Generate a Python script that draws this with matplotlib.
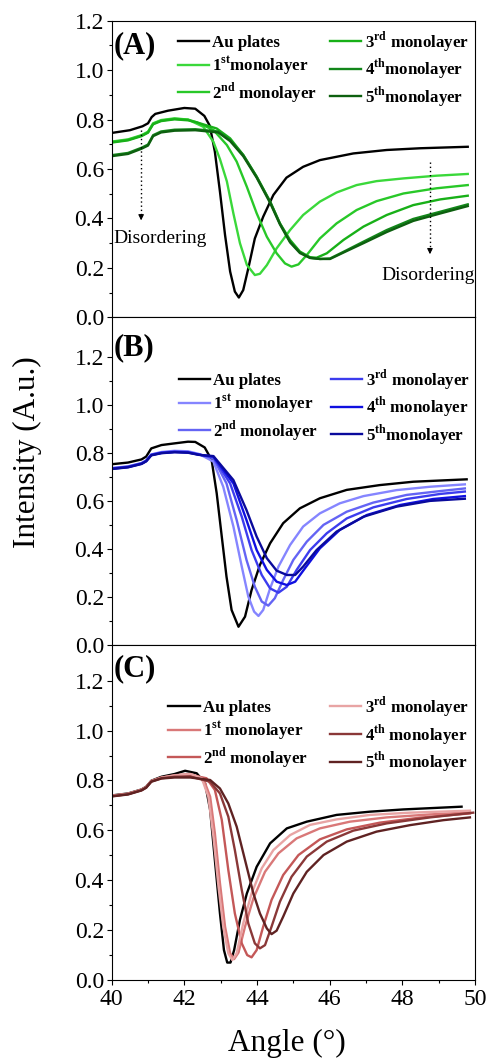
import matplotlib
matplotlib.use("Agg")
import matplotlib.pyplot as plt
from matplotlib.font_manager import FontProperties

plt.rcParams["font.family"] = "Liberation Serif"
plt.rcParams["mathtext.fontset"] = "custom"
plt.rcParams["mathtext.rm"] = "Liberation Serif"
plt.rcParams["mathtext.bf"] = "Liberation Serif:bold"

# ---------------- panel A (green) ----------------
a_au_x = [40.0, 40.5, 40.85, 41.0, 41.1, 41.2, 41.55, 42.0, 42.3, 42.55, 42.7, 42.84, 42.98, 43.12,
          43.26, 43.39, 43.5, 43.62, 43.76, 43.94, 44.17, 44.45, 44.81, 45.27, 45.73, 46.65, 47.57,
          48.49, 49.8]
a_au_y = [0.746, 0.757, 0.773, 0.785, 0.810, 0.823, 0.836, 0.847, 0.844, 0.815, 0.775, 0.670, 0.508,
          0.333, 0.185, 0.104, 0.080, 0.110, 0.198, 0.319, 0.407, 0.495, 0.565, 0.609, 0.636, 0.663,
          0.677, 0.684, 0.690]
a_m1_x = [40.0, 40.45, 40.82, 41.0, 41.14, 41.36, 41.73, 42.1, 42.52, 42.8, 42.98, 43.17, 43.35,
          43.53, 43.72, 43.94, 44.08, 44.27, 44.54, 44.91, 45.27, 45.73, 46.19, 46.74, 47.29, 48.03,
          48.94, 49.8]
a_m1_y = [0.711, 0.720, 0.737, 0.751, 0.785, 0.798, 0.805, 0.800, 0.771, 0.710, 0.640, 0.550, 0.420,
          0.300, 0.212, 0.171, 0.176, 0.211, 0.279, 0.353, 0.414, 0.468, 0.505, 0.535, 0.551, 0.562,
          0.573, 0.580]
a_m2_x = [40.0, 40.45, 40.82, 41.0, 41.14, 41.36, 41.73, 42.1, 42.34, 42.8, 43.17, 43.44, 43.72,
          43.99, 44.27, 44.54, 44.77, 44.95, 45.14, 45.37, 45.73, 46.19, 46.74, 47.29, 48.03, 48.94,
          49.8]
a_m2_y = [0.709, 0.718, 0.735, 0.749, 0.783, 0.796, 0.803, 0.800, 0.789, 0.758, 0.697, 0.630, 0.528,
          0.421, 0.326, 0.259, 0.218, 0.205, 0.214, 0.252, 0.319, 0.380, 0.434, 0.470, 0.501, 0.522,
          0.535]
a_m3_x = [40.0, 40.45, 40.82, 41.0, 41.14, 41.36, 41.73, 42.1, 42.34, 42.89, 43.26, 43.62, 43.99,
          44.36, 44.63, 44.91, 45.18, 45.46, 45.64, 45.92, 46.38, 46.93, 47.57, 48.3, 49.04, 49.8]
a_m3_y = [0.707, 0.716, 0.733, 0.747, 0.781, 0.794, 0.801, 0.797, 0.789, 0.764, 0.724, 0.657, 0.569,
          0.468, 0.380, 0.313, 0.266, 0.243, 0.241, 0.259, 0.313, 0.367, 0.414, 0.454, 0.477, 0.492]
a_m4_x = [40.0, 40.45, 40.82, 41.0, 41.14, 41.36, 41.73, 42.3, 42.93, 43.26, 43.62, 43.99, 44.36,
          44.63, 44.91, 45.18, 45.46, 45.73, 46.01, 46.38, 46.93, 47.57, 48.3, 49.04, 49.8]
a_m4_y = [0.656, 0.665, 0.686, 0.699, 0.737, 0.752, 0.759, 0.761, 0.752, 0.717, 0.657, 0.569, 0.468,
          0.380, 0.306, 0.263, 0.241, 0.236, 0.238, 0.265, 0.306, 0.353, 0.398, 0.427, 0.457]
a_m5_x = a_m4_x
a_m5_y = [0.652, 0.661, 0.682, 0.695, 0.733, 0.748, 0.755, 0.757, 0.748, 0.713, 0.652, 0.565, 0.463,
          0.376, 0.303, 0.260, 0.240, 0.236, 0.236, 0.262, 0.300, 0.345, 0.390, 0.420, 0.450]

# ---------------- panel B (blue) ----------------
b_au_x = [40.0, 40.45, 40.82, 40.95, 41.09, 41.37, 41.73, 42.1, 42.3, 42.56, 42.75, 42.89, 43.03,
          43.16, 43.3, 43.49, 43.67, 43.85, 44.08, 44.36, 44.72, 45.18, 45.73, 46.47, 47.38, 48.3,
          49.77]
b_au_y = [0.754, 0.761, 0.774, 0.786, 0.820, 0.834, 0.841, 0.848, 0.847, 0.824, 0.772, 0.633, 0.452,
          0.285, 0.146, 0.076, 0.118, 0.229, 0.334, 0.424, 0.508, 0.570, 0.612, 0.647, 0.667, 0.681,
          0.691]
b_m1_x = [40.0, 40.45, 40.82, 40.95, 41.09, 41.37, 41.73, 42.1, 42.4, 42.8, 43.07, 43.35, 43.58,
          43.76, 43.92, 44.04, 44.17, 44.36, 44.59, 44.91, 45.27, 45.73, 46.28, 46.93, 47.84, 48.76,
          49.72]
b_m1_y = [0.738, 0.745, 0.759, 0.770, 0.795, 0.805, 0.810, 0.808, 0.797, 0.765, 0.660, 0.494, 0.327,
          0.202, 0.139, 0.121, 0.146, 0.236, 0.327, 0.417, 0.494, 0.549, 0.591, 0.621, 0.646, 0.660,
          0.670]
b_m2_x = [40.0, 40.45, 40.82, 40.95, 41.09, 41.37, 41.73, 42.1, 42.4, 42.8, 43.16, 43.44, 43.71,
          43.94, 44.13, 44.31, 44.49, 44.72, 45.0, 45.37, 45.83, 46.47, 47.2, 48.12, 49.04, 49.72]
b_m2_y = [0.737, 0.744, 0.758, 0.769, 0.794, 0.803, 0.807, 0.805, 0.795, 0.779, 0.674, 0.521, 0.355,
          0.243, 0.181, 0.164, 0.195, 0.271, 0.355, 0.431, 0.501, 0.556, 0.594, 0.626, 0.642, 0.653]
b_m3_x = [40.0, 40.45, 40.82, 40.95, 41.09, 41.37, 41.73, 42.1, 42.4, 42.8, 43.26, 43.58, 43.85,
          44.13, 44.36, 44.59, 44.82, 45.09, 45.46, 45.92, 46.47, 47.2, 48.12, 49.04, 49.72]
b_m3_y = [0.736, 0.743, 0.757, 0.768, 0.793, 0.802, 0.806, 0.804, 0.794, 0.783, 0.674, 0.535, 0.396,
          0.292, 0.236, 0.218, 0.243, 0.313, 0.396, 0.466, 0.528, 0.574, 0.609, 0.630, 0.640]
b_m4_x = [40.0, 40.45, 40.82, 40.95, 41.09, 41.37, 41.73, 42.1, 42.4, 42.8, 43.35, 43.71, 43.99,
          44.27, 44.54, 44.82, 45.05, 45.32, 45.73, 46.28, 47.02, 47.94, 48.85, 49.72]
b_m4_y = [0.735, 0.742, 0.756, 0.767, 0.792, 0.801, 0.805, 0.803, 0.794, 0.786, 0.674, 0.521, 0.396,
          0.313, 0.264, 0.250, 0.264, 0.320, 0.403, 0.480, 0.542, 0.584, 0.609, 0.621]
b_m5_x = [40.0, 40.45, 40.82, 40.95, 41.09, 41.37, 41.73, 42.1, 42.4, 42.8, 43.35, 43.71, 43.99,
          44.27, 44.54, 44.82, 45.05, 45.27, 45.64, 46.19, 46.93, 47.84, 48.76, 49.72]
b_m5_y = [0.734, 0.741, 0.755, 0.766, 0.791, 0.800, 0.804, 0.802, 0.793, 0.788, 0.688, 0.563, 0.452,
          0.362, 0.310, 0.292, 0.292, 0.327, 0.396, 0.473, 0.535, 0.577, 0.601, 0.610]

# ---------------- panel C (red) ----------------
c_au_x = [40.0, 40.45, 40.82, 40.95, 41.09, 41.37, 41.73, 42.02, 42.34, 42.57, 42.71, 42.84, 42.98,
          43.09, 43.18, 43.27, 43.37, 43.53, 43.72, 43.99, 44.36, 44.82, 45.37, 46.19, 47.11, 48.03,
          49.63]
c_au_y = [0.740, 0.748, 0.764, 0.775, 0.799, 0.815, 0.826, 0.839, 0.829, 0.789, 0.682, 0.481, 0.267,
          0.120, 0.070, 0.070, 0.120, 0.241, 0.347, 0.454, 0.548, 0.608, 0.635, 0.662, 0.675, 0.684,
          0.695]
c_m1_x = [40.0, 40.45, 40.82, 40.95, 41.09, 41.37, 41.73, 42.16, 42.52, 42.71, 42.84, 42.98, 43.12,
          43.26, 43.37, 43.49, 43.67, 43.9, 44.22, 44.59, 45.09, 45.73, 46.56, 47.57, 48.76, 49.86]
c_m1_y = [0.739, 0.747, 0.763, 0.774, 0.798, 0.812, 0.821, 0.826, 0.809, 0.735, 0.588, 0.388, 0.214,
          0.107, 0.084, 0.110, 0.214, 0.327, 0.434, 0.508, 0.568, 0.608, 0.635, 0.652, 0.664, 0.672]
c_m2_x = [40.0, 40.45, 40.82, 40.95, 41.09, 41.37, 41.73, 42.16, 42.61, 42.84, 43.03, 43.21, 43.39,
          43.58, 43.73, 43.85, 43.99, 44.17, 44.4, 44.72, 45.14, 45.73, 46.47, 47.38, 48.49, 49.86]
c_m2_y = [0.738, 0.746, 0.762, 0.773, 0.797, 0.811, 0.819, 0.822, 0.809, 0.762, 0.642, 0.441, 0.267,
          0.147, 0.100, 0.091, 0.120, 0.214, 0.321, 0.421, 0.501, 0.564, 0.604, 0.631, 0.651, 0.668]
c_m3_x = [40.0, 40.45, 40.82, 40.95, 41.09, 41.37, 41.73, 42.16, 42.48, 42.66, 42.8, 42.94, 43.07,
          43.21, 43.32, 43.44, 43.62, 43.85, 44.13, 44.45, 44.91, 45.46, 46.19, 47.11, 48.21, 49.86]
c_m3_y = [0.738, 0.746, 0.762, 0.773, 0.797, 0.811, 0.820, 0.826, 0.809, 0.735, 0.575, 0.374, 0.214,
          0.107, 0.080, 0.107, 0.227, 0.347, 0.448, 0.521, 0.581, 0.622, 0.644, 0.662, 0.671, 0.679]
c_m4_x = [40.0, 40.45, 40.82, 40.95, 41.09, 41.37, 41.73, 42.16, 42.71, 42.98, 43.21, 43.39, 43.58,
          43.76, 43.94, 44.08, 44.22, 44.4, 44.63, 44.95, 45.37, 45.92, 46.65, 47.57, 48.76, 49.95]
c_m4_y = [0.737, 0.745, 0.761, 0.772, 0.796, 0.809, 0.815, 0.816, 0.795, 0.748, 0.655, 0.521, 0.361,
          0.227, 0.147, 0.127, 0.140, 0.214, 0.314, 0.414, 0.495, 0.555, 0.599, 0.628, 0.652, 0.671]
c_m5_x = [40.0, 40.45, 40.82, 40.95, 41.09, 41.37, 41.73, 42.16, 42.71, 42.98, 43.21, 43.44, 43.67,
          43.9, 44.08, 44.27, 44.4, 44.54, 44.72, 45.0, 45.37, 45.83, 46.47, 47.29, 48.21, 49.13, 49.86]
c_m5_y = [0.736, 0.744, 0.760, 0.771, 0.795, 0.808, 0.812, 0.812, 0.802, 0.768, 0.708, 0.615, 0.481,
          0.347, 0.267, 0.207, 0.184, 0.198, 0.254, 0.347, 0.434, 0.501, 0.555, 0.595, 0.621, 0.641,
          0.652]

green_colors = ["black", "#3ad83a", "#28c828", "#18b018", "#12861a", "#0d600f"]
blue_colors = ["black", "#8585ff", "#6464f4", "#3c3cee", "#0f0fe0", "#0a0a9c"]
red_colors = ["black", "#d97878", "#c45858", "#e8a4a4", "#8a3838", "#5f2222"]

a_labels = ["Au plates", r"1$^{\mathbf{st}}$monolayer", r"2$^{\mathbf{nd}}$ monolayer",
            r"3$^{\mathbf{rd}}$ monolayer", r"4$^{\mathbf{th}}$monolayer", r"5$^{\mathbf{th}}$monolayer"]
b_labels = ["Au plates", r"1$^{\mathbf{st}}$ monolayer", r"2$^{\mathbf{nd}}$ monolayer",
            r"3$^{\mathbf{rd}}$ monolayer", r"4$^{\mathbf{th}}$ monolayer", r"5$^{\mathbf{th}}$monolayer"]
c_labels = ["Au plates", r"1$^{\mathbf{st}}$ monolayer", r"2$^{\mathbf{nd}}$ monolayer",
            r"3$^{\mathbf{rd}}$ monolayer", r"4$^{\mathbf{th}}$ monolayer", r"5$^{\mathbf{th}}$ monolayer"]

fig = plt.figure(figsize=(4.89, 10.58), dpi=100)
left, width = 0.2284, 0.743
ax_a = fig.add_axes([left, 0.7001, width, 0.2803])
ax_b = fig.add_axes([left, 0.3904, width, 0.3097])
ax_c = fig.add_axes([left, 0.0737, width, 0.3166])

panels = [
    (ax_a, [(a_au_x, a_au_y), (a_m1_x, a_m1_y), (a_m2_x, a_m2_y), (a_m3_x, a_m3_y),
            (a_m4_x, a_m4_y), (a_m5_x, a_m5_y)], green_colors, a_labels, 1.2, "(A)", 0.915,
     (0.982, 0.972), 0.75),
    (ax_b, [(b_au_x, b_au_y), (b_m1_x, b_m1_y), (b_m2_x, b_m2_y), (b_m3_x, b_m3_y),
            (b_m4_x, b_m4_y), (b_m5_x, b_m5_y)], blue_colors, b_labels, 1.367, "(B)", 0.908,
     (0.985, 0.848), 0.75),
    (ax_c, [(c_au_x, c_au_y), (c_m1_x, c_m1_y), (c_m2_x, c_m2_y), (c_m3_x, c_m3_y),
            (c_m4_x, c_m4_y), (c_m5_x, c_m5_y)], red_colors, c_labels, 1.343, "(C)", 0.93,
     (0.982, 0.853), 1.3),
]

leg_font = FontProperties(family="Liberation Serif", weight="bold", size=12.2)

for ax, curves, colors, labels, ytop, tag, tag_y, leg_anchor, colsp in panels:
    for (xs, ys), col, lab in zip(curves, colors, labels):
        ax.plot(xs, ys, color=col, lw=1.7, label=lab, solid_joinstyle="round")
    ax.set_xlim(40, 50)
    ax.set_ylim(0, ytop)
    ax.set_yticks([0.0, 0.2, 0.4, 0.6, 0.8, 1.0, 1.2])
    ax.set_yticks([0.1, 0.3, 0.5, 0.7, 0.9, 1.1], minor=True)
    ax.set_yticklabels(["0.0", "0.2", "0.4", "0.6", "0.8", "1.0", "1.2"])
    ax.tick_params(axis="y", which="major", direction="out", length=3.6, width=0.8, labelsize=17,
                   pad=2)
    ax.tick_params(axis="y", which="minor", direction="out", length=2.2, width=0.8)
    for sp in ax.spines.values():
        sp.set_linewidth(0.8)
    ax.text(0.004, tag_y, tag, transform=ax.transAxes, fontsize=22, fontweight="bold",
            ha="left", va="center")
    ax.legend(loc="upper right", bbox_to_anchor=leg_anchor, ncol=2, frameon=False,
              prop=leg_font, handlelength=1.85, handletextpad=0.2, labelspacing=0.18,
              columnspacing=colsp, borderpad=0, borderaxespad=0)

for ax in (ax_a, ax_b):
    ax.set_xticks([])
ax_c.set_xticks([40, 42, 44, 46, 48, 50])
ax_c.set_xticks([41, 43, 45, 47, 49], minor=True)
ax_c.tick_params(axis="x", which="major", direction="out", length=3.6, width=0.8, labelsize=17,
                 pad=3)
ax_c.tick_params(axis="x", which="minor", direction="out", length=2.2, width=0.8)

# disordering arrows in panel A
for x0, y0, y1, tx, ty in [(40.81, 0.758, 0.381, 41.33, 0.317), (48.76, 0.628, 0.244, 48.71, 0.171)]:
    ax_a.plot([x0, x0], [y0, y1 + 0.03], color="black", lw=1.0, ls=(0, (1, 2)))
    ax_a.annotate("", xy=(x0, y1), xytext=(x0, y1 + 0.035),
                  arrowprops=dict(arrowstyle="-|>", color="black", lw=0.8, mutation_scale=8))
    ax_a.text(tx, ty, "Disordering", fontsize=14, ha="center", va="center")

fig.text(0.586, 0.0135, "Angle (°)", fontsize=22.5, ha="center", va="center")
fig.text(0.056, 0.573, "Intensity (A.u.)", fontsize=22.5, ha="center", va="center", rotation=90)

fig.savefig("out.png", dpi=100)
